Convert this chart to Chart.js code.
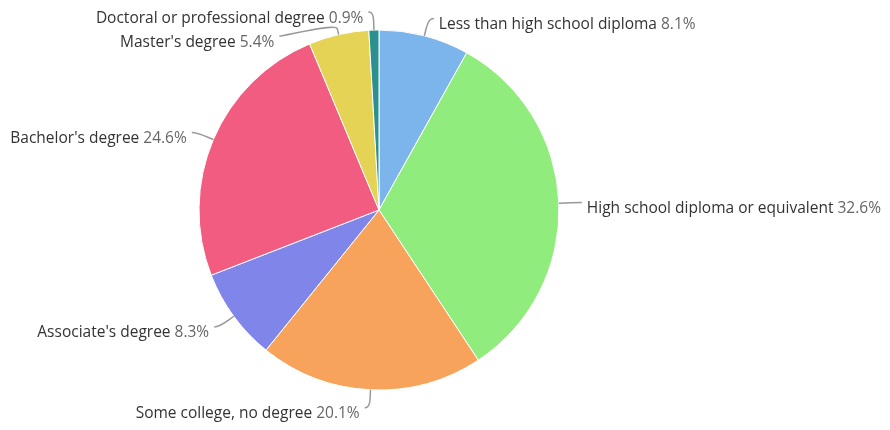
<!DOCTYPE html>
<html>
<head>
<meta charset="utf-8">
<script src="https://cdn.jsdelivr.net/npm/chart.js@4"></script>
<style>
  html, body { margin: 0; padding: 0; background: #ffffff; }
  #wrap { width: 890px; height: 430px; position: relative; }
</style>
</head>
<body>
<div id="wrap"><canvas id="c" width="890" height="430"></canvas></div>
<script>
const categories = [
  "Less than high school diploma",
  "High school diploma or equivalent",
  "Some college, no degree",
  "Associate's degree",
  "Bachelor's degree",
  "Master's degree",
  "Doctoral or professional degree"
];
const shares = [8.1, 32.6, 20.1, 8.3, 24.6, 5.4, 0.9];
const sliceColors = ["#7cb5ec", "#90ed7d", "#f7a35c", "#8085e9", "#f15c80", "#e4d354", "#2b908f"];

const FONT = "15.5px 'Open Sans', 'Noto Sans', sans-serif";
const LABEL_DIST = 18;
const LABEL_GAP = 24;

const labelPlugin = {
  id: 'pieLabels',
  afterDatasetsDraw(chart) {
    const ctx = chart.ctx;
    const meta = chart.getDatasetMeta(0);
    const data = chart.data.datasets[0].data;
    const total = data.reduce((a, b) => a + b, 0);
    const items = meta.data.map((arc, i) => {
      const p = arc.getProps(['x', 'y', 'startAngle', 'endAngle', 'outerRadius'], true);
      const a = (p.startAngle + p.endAngle) / 2;
      const R = p.outerRadius + LABEL_DIST;
      return {
        i, a, cx: p.x, cy: p.y, r: p.outerRadius, R,
        left: Math.cos(a) < 0,
        y: p.y + R * Math.sin(a)
      };
    });
    [true, false].forEach(side => {
      const list = items.filter(it => it.left === side).sort((m, n) => m.y - n.y);
      for (let k = 1; k < list.length; k++) {
        if (list[k].y < list[k - 1].y + LABEL_GAP) list[k].y = list[k - 1].y + LABEL_GAP;
      }
    });
    ctx.save();
    ctx.font = FONT;
    items.forEach(it => {
      const dy = it.y - it.cy;
      const dx = Math.sqrt(Math.max(0, it.R * it.R - dy * dy));
      const x = it.cx + (it.left ? -dx : dx);
      const dir = it.left ? -1 : 1;
      const tx = it.cx + it.r * Math.cos(it.a), ty = it.cy + it.r * Math.sin(it.a);
      const br = it.r + 6;
      const bx = it.cx + br * Math.cos(it.a), by = it.cy + br * Math.sin(it.a);
      ctx.beginPath();
      ctx.moveTo(x + dir * 5, it.y);
      ctx.bezierCurveTo(x, it.y, 2 * bx - tx, 2 * by - ty, bx, by);
      ctx.lineTo(tx, ty);
      ctx.strokeStyle = '#999999';
      ctx.lineWidth = 1.5;
      ctx.stroke();
      const name = chart.data.labels[it.i];
      const pct = (data[it.i] / total * 100).toFixed(1) + '%';
      const textY = it.y + 6;
      ctx.textBaseline = 'middle';
      const wName = ctx.measureText(name + ' ').width;
      const wPct = ctx.measureText(pct).width;
      let x0 = it.left ? x - 10 - wName - wPct : x + 10;
      ctx.textAlign = 'left';
      ctx.fillStyle = '#333333';
      ctx.fillText(name, x0, textY);
      ctx.fillStyle = '#666666';
      ctx.fillText(pct, x0 + wName, textY);
    });
    ctx.restore();
  }
};

new Chart(document.getElementById('c'), {
  type: 'pie',
  data: {
    labels: categories,
    datasets: [{
      data: shares,
      backgroundColor: sliceColors,
      borderColor: '#ffffff',
      borderWidth: 1
    }]
  },
  options: {
    responsive: false,
    animation: false,
    layout: { padding: { left: 198.5, right: 330.5, top: 29.5, bottom: 39.5 } },
    plugins: { legend: { display: false }, tooltip: { enabled: false } }
  },
  plugins: [labelPlugin]
});
</script>
</body>
</html>
